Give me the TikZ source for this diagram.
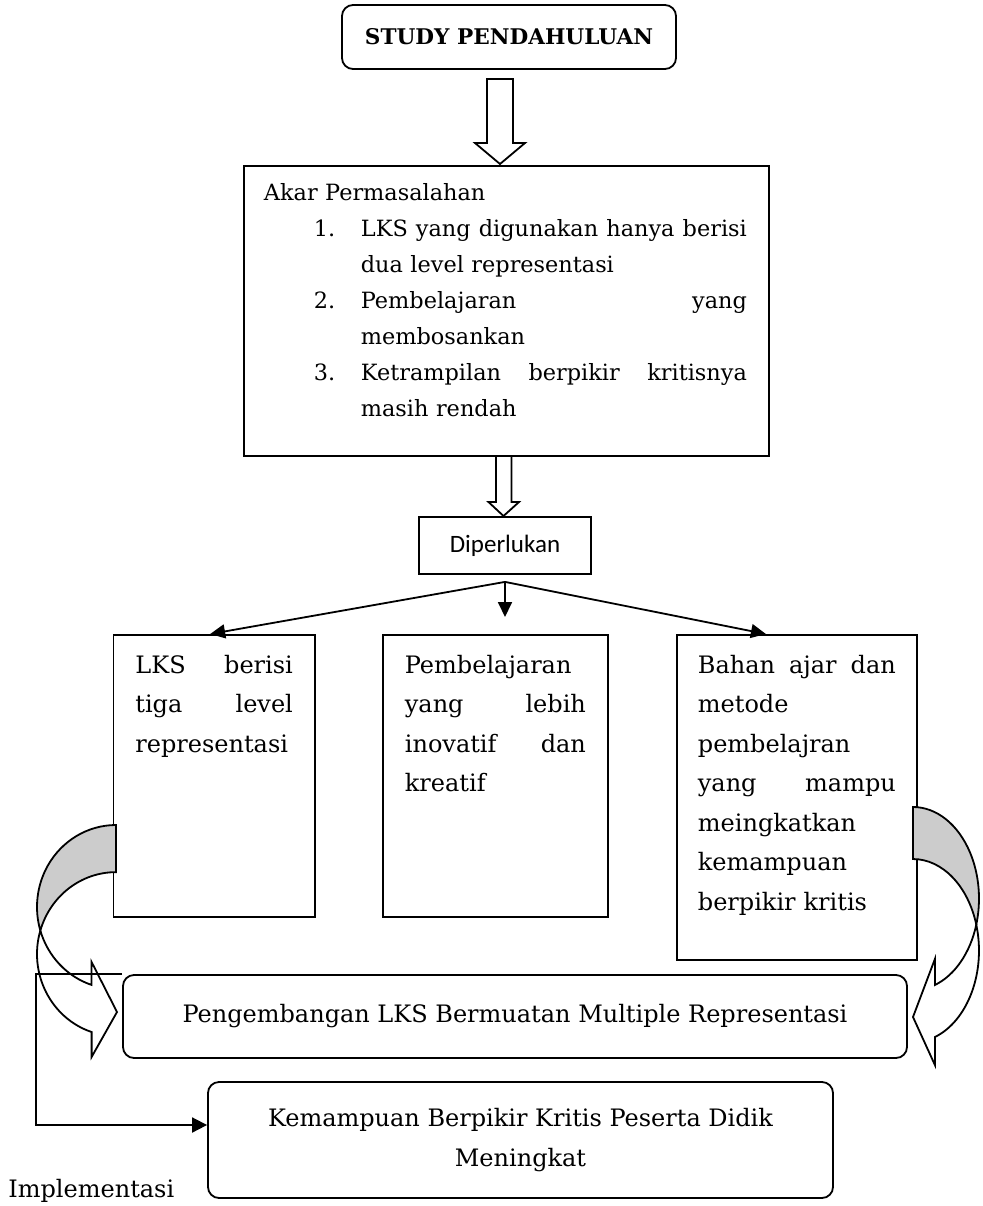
\documentclass[tikz,border=0pt]{standalone}
\usepackage{fontspec}
\setmainfont{DejaVu Serif}
\newfontfamily\calibri{Carlito}
\usetikzlibrary{arrows.meta}

\begin{document}
\begin{tikzpicture}[
  x=0.5pt, y=-0.5pt,
  every node/.style={font=\fontsize{12}{19.75}\selectfont, inner sep=0pt},
  plainbox/.style={draw, line width=0.9pt, rectangle},
  roundbox/.style={draw, line width=0.9pt, rounded corners=5.5pt},
  hollow/.style={draw, line width=0.9pt, fill=white, line join=miter},
  branch/.style={line width=0.9pt, -{Triangle[length=7.5pt,width=7pt]}},
  back/.style={draw, line width=0.9pt, fill=black!20},
  front/.style={draw, line width=0.9pt, fill=white}
]
  \useasboundingbox (0,0) rectangle (983,1206);

  % judul dan akar masalah
  \node[roundbox, minimum width=167pt, minimum height=32pt, font=\fontsize{10.8}{14}\selectfont\bfseries] (study) at (509,37) {STUDY PENDAHULUAN};
  \node[plainbox, anchor=north west, text width=242.5pt, align=left, inner xsep=10pt, inner ysep=9pt, text depth=118.5pt, font=\fontsize{11.2}{18}\selectfont] (akar) at (243,165) {%
    Akar Permasalahan\\
    \hspace*{25pt}\makebox[23.5pt][l]{1.}\makebox[193pt][l]{LKS \hfill yang \hfill digunakan \hfill hanya \hfill berisi}\\
    \hspace*{48.5pt}dua level representasi\\
    \hspace*{25pt}\makebox[23.5pt][l]{2.}\makebox[193pt][l]{Pembelajaran \hfill yang}\\
    \hspace*{48.5pt}membosankan\\
    \hspace*{25pt}\makebox[23.5pt][l]{3.}\makebox[193pt][l]{Ketrampilan \hfill berpikir \hfill kritisnya}\\
    \hspace*{48.5pt}masih rendah};
  \draw[hollow] (487,79) -- (513,79) -- (513,143) -- (525,143) -- (500,164) -- (475,143) -- (487,143) -- cycle;
  \draw[hollow] (496,456) -- (511.5,456) -- (511.5,502) -- (519,502) -- (503.5,516) -- (488.5,502) -- (496,502) -- cycle;

  % yang diperlukan
  \node[plainbox, minimum width=86pt, minimum height=28.5pt, font=\calibri\fontsize{12.5}{15}\selectfont] (perlu) at (505,545.5) {Diperlukan};
  \node[plainbox, anchor=north west, text width=78.75pt, align=left, inner xsep=11pt, inner ysep=10pt, text depth=112pt] (lks) at (112.5,634) {LKS \hfill berisi\\ tiga \hfill level\\ representasi};
  \node[plainbox, anchor=north west, text width=90.5pt, align=left, inner xsep=11pt, inner ysep=10pt, text depth=112pt] (pemb) at (382,634) {Pembelajaran\\ yang \hfill lebih\\ inovatif \hfill dan\\ kreatif};
  \node[plainbox, anchor=north west, text width=99pt, align=left, inner xsep=10.5pt, inner ysep=10pt, text depth=133.5pt] (bahan) at (676,634) {Bahan \hfill ajar \hfill dan\\ metode\\ pembelajran\\ yang \hfill mampu\\ meingkatkan\\ kemampuan\\ berpikir kritis};

  \coordinate (pusat) at ([yshift=-3.5pt]perlu.south);
  \draw[branch] (pusat) -- ([xshift=-2pt]lks.north);
  \draw[branch] (pusat) -- ([yshift=8.5pt]pemb.north -| pusat);
  \draw[branch] (pusat) -- ([xshift=-15.5pt]bahan.north);

  % hasil
  \node[roundbox, minimum width=392pt, minimum height=41.5pt] (peng) at (515,1016.5) {Pengembangan LKS Bermuatan Multiple Representasi};
  \node[roundbox, minimum width=312.5pt, minimum height=58pt, align=center] (naik) at (520.5,1140) {Kemampuan Berpikir Kritis Peserta Didik\\ Meningkat};
  \node[anchor=base west] (impl) at (8,1197) {Implementasi};

  % panah lengkung kiri
  \filldraw[back] (116,825) arc[start angle=270, end angle=163.3, x radius=79, y radius=82]
    arc[start angle=196.7, end angle=270, x radius=79, y radius=82] -- cycle;
  \filldraw[front] (40.33,930.5) arc[start angle=163.3, end angle=108, x radius=79, y radius=82]
    -- (91.6,962) -- (117,1012) -- (91.6,1057) -- (91.6,1032)
    arc[start angle=108, end angle=196.7, x radius=79, y radius=82] -- cycle;
  % panah lengkung kanan
  \filldraw[back] (913,807) arc[start angle=270, end angle=376.5, x radius=66, y radius=91.6]
    arc[start angle=343.5, end angle=270, x radius=66, y radius=91.6] -- cycle;
  \filldraw[front] (976.3,924.6) arc[start angle=16.5, end angle=70.6, x radius=66, y radius=91.6]
    -- (934.9,959) -- (913,1017) -- (934.9,1065) -- (934.9,1037)
    arc[start angle=70.6, end angle=-16.5, x radius=66, y radius=91.6] -- cycle;

  \draw[line width=0.9pt, -{Triangle[length=7.5pt,width=7.5pt]}] (peng.north west) -- ++(-86,0) |- ([yshift=7.5pt]naik.west);
\end{tikzpicture}
\end{document}
